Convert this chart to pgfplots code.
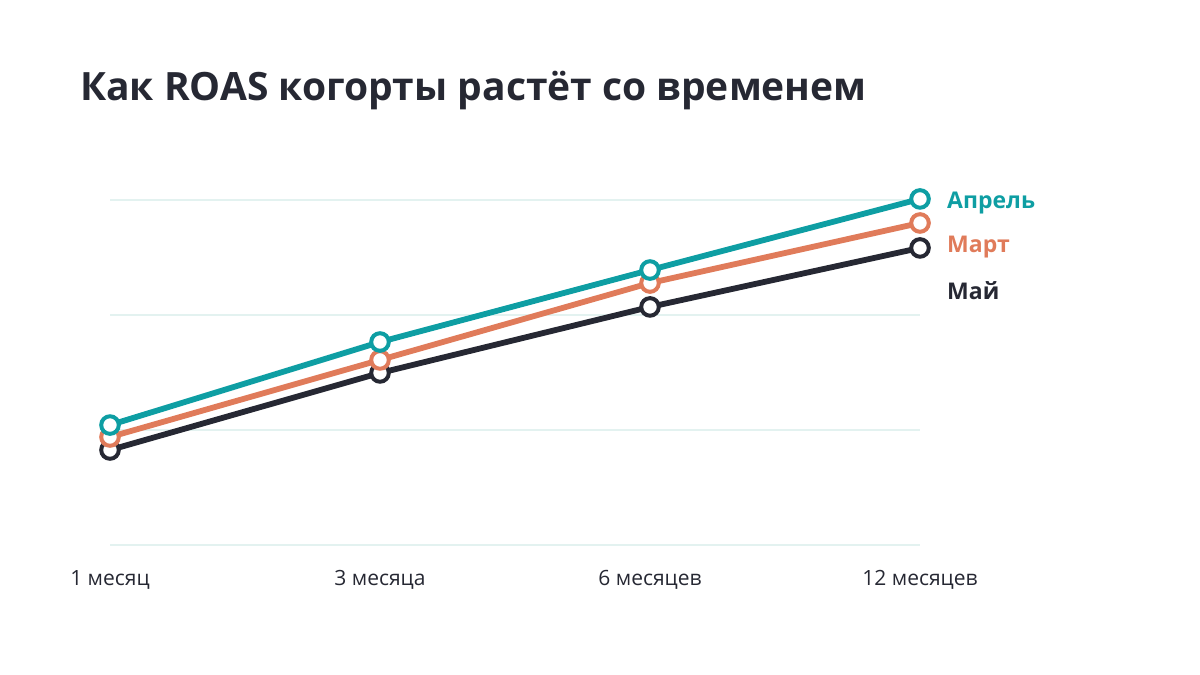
\documentclass[border=0pt]{standalone}
\usepackage{pgfplots}
\pgfplotsset{compat=1.18}
\usepackage{fontspec}
\setmainfont{Open Sans}

\definecolor{cteal}{HTML}{0E9EA3}
\definecolor{corange}{HTML}{E07B5A}
\definecolor{cdark}{HTML}{262833}
\definecolor{cgrid}{HTML}{E3F2F0}

\begin{document}
\begin{tikzpicture}[x=1bp,y=1bp]
\path[use as bounding box] (0,0) rectangle (1200,675);
\node[anchor=base west, text=cdark, font=\fontsize{39bp}{44bp}\selectfont\bfseries, inner sep=0pt] at (80,675-101) {Как ROAS когорты растёт со временем};
\begin{axis}[
  at={(110bp,130bp)}, anchor=south west,
  scale only axis, width=810bp, height=345bp,
  xmin=0, xmax=3, ymin=0, ymax=3,
  axis line style={draw=none},
  clip=false,
  xtick={0,1,2,3},
  xticklabels={1 месяц,3 месяца,6 месяцев,12 месяцев},
  ytick={0,1,2,3}, yticklabels={},
  major tick length=0pt,
  ymajorgrids, grid style={cgrid, line width=1.2bp},
  xticklabel style={text=cdark, font=\fontsize{21bp}{24bp}\selectfont, yshift=-22bp},
  every axis plot/.style={line width=5.8bp, mark=*, mark size=8.8bp},
]
\addplot[cdark, mark options={draw=cdark, fill=white, line width=4bp}] coordinates {(0,0.826) (1,1.496) (2,2.070) (3,2.583)};
\addplot[corange, mark options={draw=corange, fill=white, line width=4bp}] coordinates {(0,0.939) (1,1.609) (2,2.278) (3,2.800)};
\addplot[cteal, mark options={draw=cteal, fill=white, line width=4bp}] coordinates {(0,1.043) (1,1.765) (2,2.391) (3,3.009)};
\end{axis}
\begin{scope}[font=\fontsize{23bp}{26bp}\selectfont\bfseries]
\node[anchor=west, text=cteal, inner sep=0pt] at (947,675-203) {Апрель};
\node[anchor=west, text=corange, inner sep=0pt] at (947,675-247) {Март};
\node[anchor=west, text=cdark, inner sep=0pt] at (947,675-291) {Май};
\end{scope}
\end{tikzpicture}
\end{document}
